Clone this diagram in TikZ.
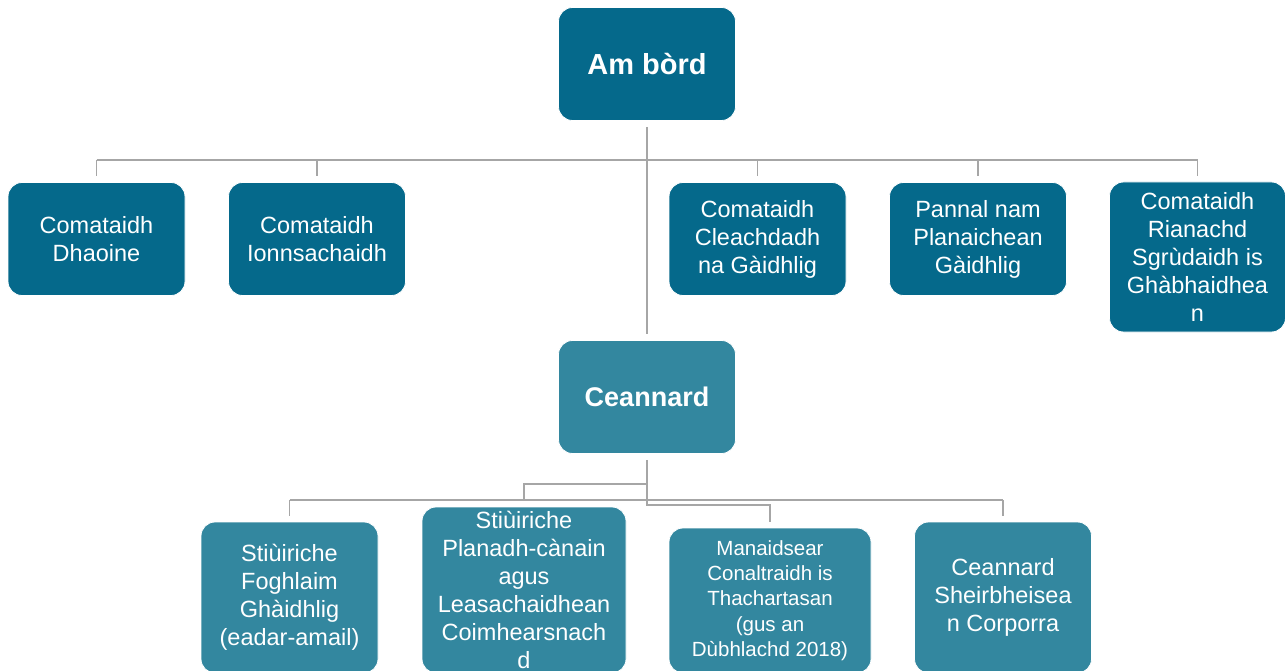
\documentclass[tikz,border=0pt]{standalone}
\usepackage{fontspec}
\setmainfont{Liberation Sans}
\definecolor{darkteal}{HTML}{05698B}
\definecolor{lightteal}{HTML}{33879F}
\definecolor{conn}{HTML}{A6A6A6}
\begin{document}
\begin{tikzpicture}[x=1pt,y=-1pt,
  box/.style={rectangle, rounded corners=14pt, draw=white, line width=0.8pt, inner sep=0pt, align=center, text=white, font=\fontsize{23.5}{28}\selectfont},
  darkbox/.style={box, fill=darkteal},
  lightbox/.style={box, fill=lightteal},
  headfont/.style={font=\fontsize{27}{32}\selectfont\bfseries},
  bigheadfont/.style={font=\fontsize{29}{34}\selectfont\bfseries},
  smallfont/.style={font=\fontsize{20.5}{25.2}\selectfont},
  conn/.style={draw=conn, line width=1.2pt}]
\useasboundingbox (0,0) rectangle (1285,671);
\clip (0,0) rectangle (1285,671);
% top level
\node[darkbox, bigheadfont, minimum width=177pt, minimum height=113pt] (top) at (647,64) {Am bòrd};
\node[darkbox, minimum width=177pt, minimum height=113pt] (n1) at (96.5,239) {Comataidh\\Dhaoine};
\node[darkbox, minimum width=177pt, minimum height=113pt] (n2) at (317,239) {Comataidh\\Ionnsachaidh};
\node[darkbox, minimum width=177pt, minimum height=113pt] (n3) at (757.5,239) {Comataidh\\Cleachdadh\\na Gàidhlig};
\node[darkbox, minimum width=177pt, minimum height=113pt] (n4) at (978,239) {Pannal nam\\Planaichean\\Gàidhlig};
\node[darkbox, minimum width=176pt, minimum height=150pt] (n5) at (1197.5,257) {Comataidh\\Rianachd\\Sgrùdaidh is\\Ghàbhaidhea\\n};
% ceannard
\node[lightbox, headfont, minimum width=177pt, minimum height=113pt] (ceann) at (647,397) {Ceannard};
% bottom
\node[lightbox, minimum width=177pt, minimum height=151pt] (b1) at (289.5,597.5) {Stiùiriche\\Foghlaim\\Ghàidhlig\\(eadar-amail)};
\node[lightbox, minimum width=204pt, minimum height=166pt] (b2) at (524,590) {Stiùiriche\\Planadh-cànain\\agus\\Leasachaidhean\\Coimhearsnach\\d};
\node[lightbox, smallfont, minimum width=202pt, minimum height=145pt] (b3) at (770,600.5) {Manaidsear\\Conaltraidh is\\Thachartasan\\(gus an\\Dùbhlachd 2018)};
\node[lightbox, minimum width=177pt, minimum height=151pt] (b4) at (1003,597.5) {Ceannard\\Sheirbheisea\\n Corporra};
% connectors top
\coordinate (hub) at (647,160);
\draw[conn] ([yshift=-6pt]top.south) -- ([yshift=6pt]ceann.north);
\draw[conn] (n1.north |- hub) -- (n5.north |- hub);
\foreach \n in {n1,n2,n3,n4,n5}
  \draw[conn] (\n.north |- hub) -- ([yshift=6pt]\n.north);
% connectors bottom
\coordinate (h1) at (0,505);
\coordinate (h2) at (0,500);
\coordinate (h3) at (0,484);
\draw[conn] ([yshift=-6pt]ceann.south) -- (ceann.south |- h1) -- (b3.north |- h1) -- ([yshift=6pt]b3.north);
\draw[conn] (b1.north |- h2) -- (b4.north |- h2);
\draw[conn] (b1.north |- h2) -- ([yshift=6pt]b1.north);
\draw[conn] (b4.north |- h2) -- ([yshift=6pt]b4.north);
\draw[conn] (ceann.south |- h3) -- (b2.north |- h3) -- ([yshift=8pt]b2.north);
\end{tikzpicture}
\end{document}
